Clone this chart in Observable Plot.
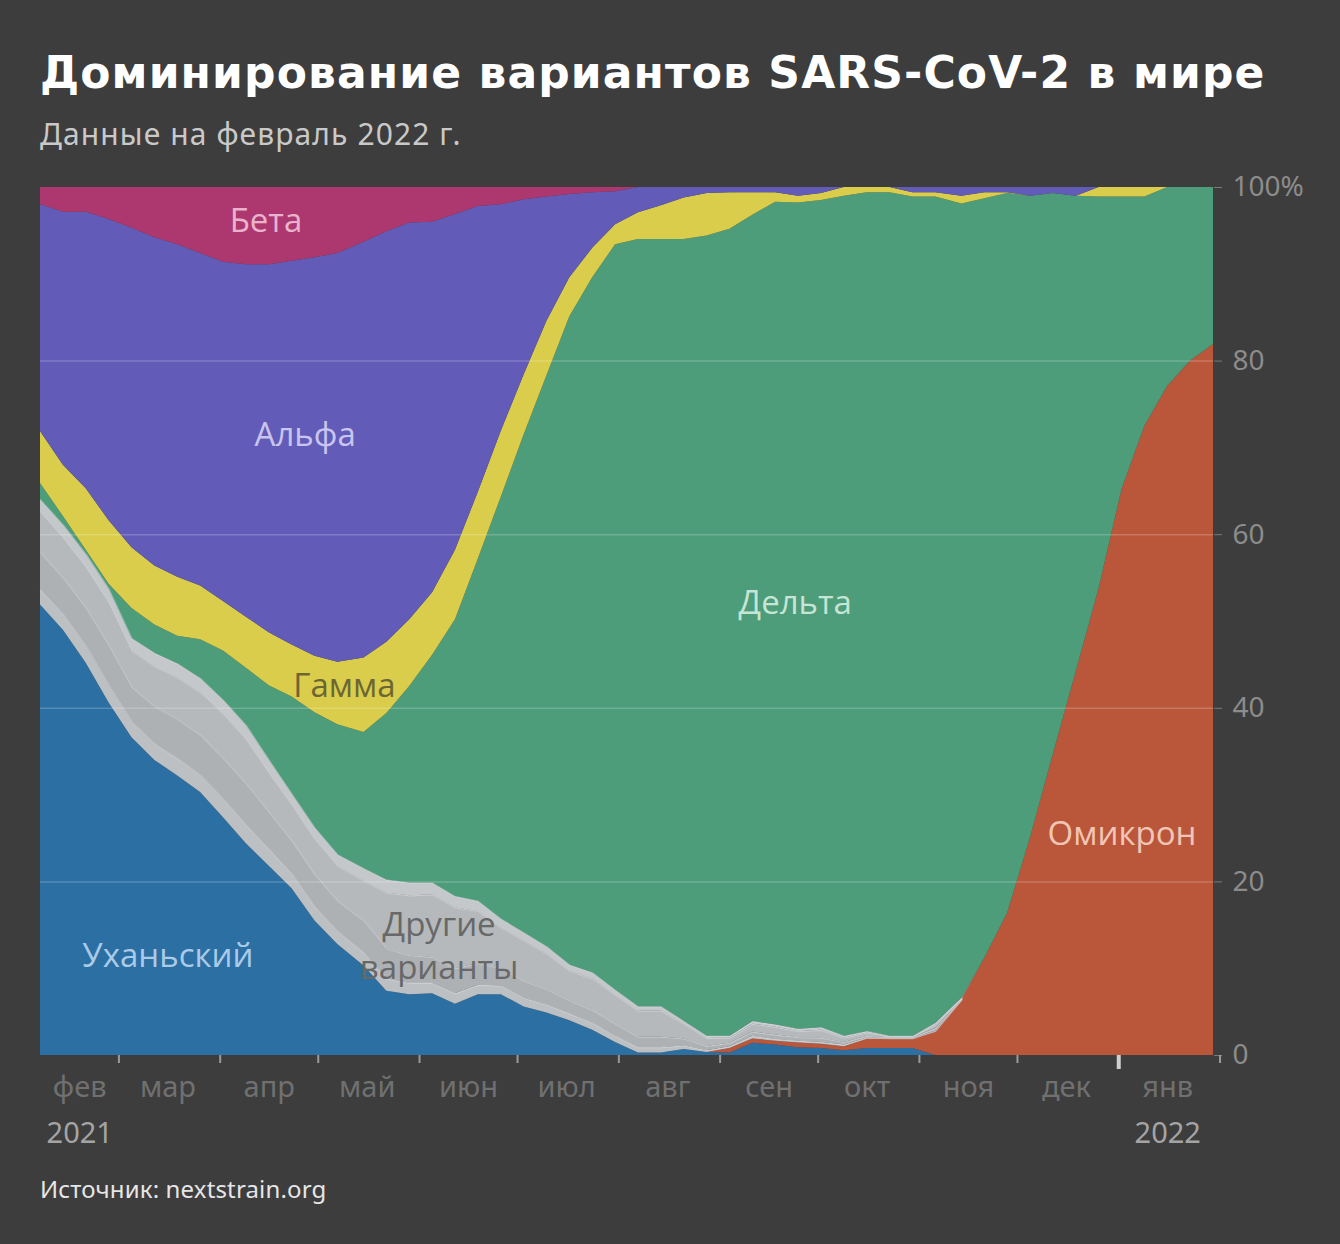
<!DOCTYPE html>
<html>
<head>
<meta charset="utf-8">
<script src="https://cdn.jsdelivr.net/npm/d3@7"></script>
<script src="https://cdn.jsdelivr.net/npm/@observablehq/plot@0.6"></script>
<style>
  html, body { margin: 0; padding: 0; background: #3d3d3d; }
  #wrap { position: relative; width: 1340px; height: 1244px; overflow: hidden; background: #3d3d3d; }
  #title { position: absolute; left: 40px; top: 48px; margin: 0; font-family: "DejaVu Sans", "Noto Sans", sans-serif; font-weight: 700; font-size: 44px; letter-spacing: 1.1px; line-height: 50px; color: #ffffff; white-space: nowrap; }
  #subtitle { position: absolute; left: 40px; top: 117px; margin: 0; font-family: "Noto Sans", "Open Sans", sans-serif; font-size: 30px; letter-spacing: 1.1px; line-height: 34px; color: #c9c9c9; white-space: nowrap; }
  #source { position: absolute; left: 40px; top: 1175px; margin: 0; font-family: "Noto Sans", "Open Sans", sans-serif; font-size: 24px; letter-spacing: 0.15px; line-height: 28px; color: #e6e6e6; white-space: nowrap; }
  #chart { position: absolute; left: 0; top: 0; }
</style>
</head>
<body>
<div id="wrap">
  <div id="chart"></div>
  <h1 id="title">Доминирование вариантов SARS-CoV-2 в мире</h1>
  <p id="subtitle">Данные на февраль 2022 г.</p>
  <p id="source">Источник: nextstrain.org</p>
</div>
<script>
// ---- data (weekly, % of sequences) ----
const dates = ["2021-02-05","2021-02-12","2021-02-19","2021-02-26","2021-03-05","2021-03-12","2021-03-19","2021-03-26",
  "2021-04-02","2021-04-09","2021-04-16","2021-04-23","2021-04-30","2021-05-07","2021-05-15","2021-05-22","2021-05-29",
  "2021-06-05","2021-06-12","2021-06-19","2021-06-26","2021-07-03","2021-07-10","2021-07-17","2021-07-24","2021-07-31",
  "2021-08-07","2021-08-14","2021-08-21","2021-08-28","2021-09-04","2021-09-11","2021-09-18","2021-09-25","2021-10-02",
  "2021-10-09","2021-10-16","2021-10-23","2021-10-30","2021-11-06","2021-11-14","2021-11-21","2021-11-28","2021-12-05",
  "2021-12-12","2021-12-19","2021-12-26","2022-01-02","2022-01-09","2022-01-16","2022-01-23","2022-01-30"];

const wuhan = [51.9,49.0,45.2,40.6,36.6,34.0,32.2,30.3,27.4,24.4,21.8,19.2,15.5,12.8,10.3,7.4,7.0,7.1,5.9,7.0,
  7.0,5.6,4.9,4.0,2.9,1.5,0.3,0.3,0.7,0.35,0.3,1.4,1.2,0.9,0.8,0.55,0.8,0.8,0.8,0,
  0,0,0,0,0,0,0,0,0,0,0,0];
const omicron = [0,0,0,0,0,0,0,0,0,0,0,0,0,0,0,0,0,0,0,0,
  0,0,0,0,0,0,0,0,0,0,0.5,0.5,0.45,0.55,0.5,0.45,1.1,1.1,1.1,2.7,
  6.4,11.2,16.4,25.1,34.7,44.2,53.8,65.2,72.5,77.1,80.0,81.9];
const other1 = [1.7,1.8,1.9,2.0,1.8,1.9,2.0,2.0,2.1,2.1,1.9,1.7,1.6,1.5,1.5,1.4,1.3,1.2,1.2,1.1,
  1.0,1.0,0.9,0.8,0.8,0.7,0.6,0.6,0.4,0.2,0.2,0.3,0.2,0.2,0.2,0.2,0.1,0.05,0.05,0.1,
  0,0,0,0,0,0,0,0,0,0,0,0];
const other2 = [4.3,4.2,4.4,4.6,4.0,4.3,4.5,4.6,4.7,4.8,4.3,3.8,3.7,3.5,3.7,3.5,3.2,3.0,2.9,2.5,
  2.0,2.0,1.8,1.5,1.5,1.4,1.2,1.2,0.8,0.5,0.4,0.5,0.5,0.4,0.5,0.3,0.2,0.1,0.1,0.3,
  0.05,0,0,0,0,0,0,0,0,0,0,0];
const other3 = [4.7,4.6,4.7,4.9,4.2,4.6,4.8,4.9,5.1,5.1,4.5,4.1,4.1,4.0,4.6,6.4,6.9,7.2,7.0,6.0,
  4.7,4.6,4.1,3.4,3.6,3.3,3.0,3.0,1.7,0.9,0.6,0.9,0.9,0.7,0.9,0.5,0.4,0.1,0.1,0.45,
  0.1,0,0,0,0,0,0,0,0,0,0,0];
const other4 = [1.4,1.5,1.5,1.6,1.4,1.5,1.6,1.6,1.6,1.6,1.5,1.3,1.3,1.3,1.4,1.5,1.45,1.35,1.3,1.15,
  1.0,0.9,0.8,0.7,0.7,0.6,0.5,0.5,0.3,0.25,0.2,0.3,0.25,0.25,0.3,0.2,0.15,0.05,0.05,0.15,
  0.05,0,0,0,0,0,0,0,0,0,0,0];
const delta = [1.9,1.0,0.5,0.6,3.5,3.3,3.2,4.5,5.7,6.6,8.6,11.2,13.3,15.0,15.7,19.2,22.65,26.25,31.9,39.45,
  48.6,57.4,65.8,74.7,80.1,85.9,88.4,88.4,90.1,92.2,93.0,92.9,94.8,95.2,95.3,96.8,96.65,97.2,96.7,95.2,
  91.5,87.5,82.9,73.9,64.6,54.8,45.1,33.7,26.4,22.9,20.0,18.1];
const gamma = [6.0,5.9,7.1,7.3,7.0,6.8,6.8,6.2,5.7,5.9,6.1,6.0,6.5,7.2,8.6,8.2,7.7,7.2,8.0,7.7,
  7.6,6.9,6.3,4.5,3.4,2.3,3.1,3.9,4.8,4.9,4.2,2.6,1.1,0.8,0.8,1.0,0.6,0.6,0.5,0.5,
  0.9,0.7,0.1,0,0,0,1.1,1.1,1.1,0,0,0];
const alpha = [26.1,29.15,31.85,34.7,36.8,37.8,38.3,38.3,39.1,40.6,42.4,44.2,45.9,47.1,47.9,47.3,45.7,42.7,38.7,32.9,
  26.1,20.2,14.3,9.6,6.4,3.8,2.9,2.1,1.2,0.7,0.6,0.6,0.6,1.0,0.7,0,0,0,0.6,0.6,
  1.0,0.6,0.6,1.0,0.7,1.0,0,0,0,0,0,0];
const beta = [2.0,2.85,2.85,3.7,4.7,5.8,6.6,7.6,8.6,8.9,8.9,8.5,8.1,7.6,6.3,5.1,4.1,4.0,3.1,2.2,
  2.0,1.4,1.1,0.8,0.6,0.5,0,0,0,0,0,0,0,0,0,0,0,0,0,0,
  0,0,0,0,0,0,0,0,0,0,0,0];

const seriesNames = ["Уханьский","Омикрон","Другие 1","Другие 2","Другие 3","Другие 4","Дельта","Гамма","Альфа","Бета"];
const seriesColors = ["#2c6fa3","#ba573b","#bcc0c3","#adb1b4","#b5b9bc","#c4c8cb","#4d9c7a","#dacd4b","#625cb8","#ad386f"];
const seriesValues = [wuhan, omicron, other1, other2, other3, other4, delta, gamma, alpha, beta];
const othersLastDate = "2021-11-06";

const monthStarts = ["2021-03-01","2021-04-01","2021-05-01","2021-06-01","2021-07-01","2021-08-01",
  "2021-09-01","2021-10-01","2021-11-01","2021-12-01","2022-02-01"];
const yearStart = ["2022-01-01"];
const monthMids = ["2021-02-17","2021-03-16","2021-04-16","2021-05-16","2021-06-16","2021-07-16","2021-08-16",
  "2021-09-16","2021-10-16","2021-11-16","2021-12-16","2022-01-16"];
const monthNames = ["фев","мар","апр","май","июн","июл","авг","сен","окт","ноя","дек","янв"];
const yearMids = ["2021-02-17","2022-01-16"];
const yearNames = ["2021","2022"];
const yTicks = [0,20,40,60,80,100];

const labelText = ["Бета","Альфа","Гамма","Дельта","Омикрон","Уханьский","Другие\nварианты"];
const labelDate = ["2021-04-15","2021-04-27","2021-05-09","2021-09-24","2022-01-02","2021-03-16","2021-06-07"];
const labelValue = [96.5,71.8,42.9,52.5,25.8,11.8,12.9];
const labelColor = ["#e9b3cd","#c9c5ef","#6c6634","#c6e5d4","#f1c6b6","#a9cbe7","#686868"];

// ---- build table ----
const parse = s => new Date(s + "T00:00:00Z");
const table = dates.flatMap((d, i) => seriesNames.map((s, k) => ({date: parse(d), series: s, value: seriesValues[k][i]})));
const labels = labelText.map((t, i) => ({text: t, date: parse(labelDate[i]), value: labelValue[i], color: labelColor[i]}));
const isOther = s => s.startsWith("Другие");
const cutoff = parse(othersLastDate);

const font = "'Noto Sans', 'Open Sans', sans-serif";
const chart = Plot.plot({
  width: 1340,
  height: 1160,
  marginLeft: 40,
  marginRight: 127,
  marginTop: 187,
  marginBottom: 105,
  style: {background: "transparent", fontFamily: font, overflow: "visible"},
  x: {type: "utc", domain: [parse("2021-02-05"), parse("2022-01-30")]},
  y: {domain: [0, 100]},
  color: {domain: seriesNames, range: seriesColors},
  marks: [
    Plot.areaY(table, {x: "date", y: "value", z: "series", fill: "series", order: seriesNames, curve: "linear"}),
    Plot.lineY(table, Plot.stackY2({x: "date", y: "value", z: "series", order: seriesNames, curve: "linear",
      stroke: d => (isOther(d.series) && d.date <= cutoff) ? "#d6d9dc" : "none", strokeWidth: 1.2, strokeOpacity: 0.6})),
    Plot.gridY([20, 40, 60, 80], {stroke: "#ffffff", strokeOpacity: 0.2, strokeWidth: 1.5}),
    Plot.axisY(yTicks, {anchor: "right", tickSize: 8, tickPadding: 11, stroke: "#7a7a7a", label: null,
      tickFormat: d => d === 100 ? "100%" : String(d), fontSize: 28, color: "#8c8c8c"}),
    Plot.axisX(monthStarts.map(parse), {tickSize: 8, tickFormat: () => "", stroke: "#9a9a9a", strokeWidth: 2, label: null}),
    Plot.axisX(yearStart.map(parse), {tickSize: 14, tickFormat: () => "", stroke: "#cfcfcf", strokeWidth: 4, label: null}),
    Plot.axisX(monthMids.map(parse), {tickSize: 0, tickPadding: 21, tickFormat: (d, i) => monthNames[i], fontSize: 29, color: "#707070", label: null}),
    Plot.axisX(yearMids.map(parse), {tickSize: 0, tickPadding: 67, tickFormat: (d, i) => yearNames[i], fontSize: 29, color: "#a4a4a4", label: null}),
    Plot.text(labels, {x: "date", y: "value", text: "text", fill: "color", fontSize: 33, lineHeight: 1.3,
      fontFamily: "'Open Sans', 'Noto Sans', sans-serif", textAnchor: "middle"})
  ]
});
document.getElementById("chart").appendChild(chart);
</script>
</body>
</html>
